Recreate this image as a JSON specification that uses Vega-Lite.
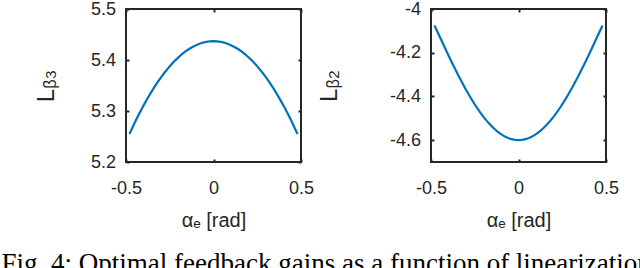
{
  "$schema": "https://vega.github.io/schema/vega-lite/v6.json",
  "background": "white",
  "padding": {"left": 1, "top": -1, "right": 5, "bottom": 0},
  "spacing": 1,
  "config": {
    "font": "Liberation Sans",
    "view": {"stroke": "#262626", "strokeWidth": 2},
    "axis": {
      "grid": false, "domain": false, "labelFlush": false,
      "tickSize": -3, "tickColor": "#262626", "tickWidth": 2,
      "labelFont": "Liberation Sans", "labelFontSize": 18, "labelColor": "#262626",
      "titleFont": "Liberation Sans", "titleFontSize": 20, "titleColor": "#262626", "titleFontWeight": "normal"
    },
    "axisBottom": {"labelPadding": 20, "titlePadding": 13},
    "axisLeft": {"labelPadding": 13.5, "minExtent": 42, "maxExtent": 42, "titleFontSize": 24},
    "axisTop": {"labels": false, "title": null, "minExtent": 0, "maxExtent": 0},
    "axisRight": {"labels": false, "title": null, "minExtent": 0, "maxExtent": 0}
  },
  "title": {"text": "Fig. 4: Optimal feedback gains as a function of linearization", "orient": "bottom", "anchor": "start", "frame": "bounds", "dx": -32, "font": "Liberation Serif", "fontSize": 27, "fontWeight": "normal", "color": "#000000", "offset": 20},
  "data": {"values": [
    {"alpha": -0.48, "Lb3": 5.2550, "Lb2": -4.0752},
    {"alpha": -0.46, "Lb3": 5.2698, "Lb2": -4.1099},
    {"alpha": -0.44, "Lb3": 5.2841, "Lb2": -4.1444},
    {"alpha": -0.42, "Lb3": 5.2976, "Lb2": -4.1787},
    {"alpha": -0.40, "Lb3": 5.3106, "Lb2": -4.2125},
    {"alpha": -0.38, "Lb3": 5.3229, "Lb2": -4.2456},
    {"alpha": -0.36, "Lb3": 5.3346, "Lb2": -4.2780},
    {"alpha": -0.34, "Lb3": 5.3457, "Lb2": -4.3095},
    {"alpha": -0.32, "Lb3": 5.3561, "Lb2": -4.3399},
    {"alpha": -0.30, "Lb3": 5.3659, "Lb2": -4.3691},
    {"alpha": -0.28, "Lb3": 5.3751, "Lb2": -4.3970},
    {"alpha": -0.26, "Lb3": 5.3836, "Lb2": -4.4235},
    {"alpha": -0.24, "Lb3": 5.3915, "Lb2": -4.4484},
    {"alpha": -0.22, "Lb3": 5.3988, "Lb2": -4.4717},
    {"alpha": -0.20, "Lb3": 5.4054, "Lb2": -4.4933},
    {"alpha": -0.18, "Lb3": 5.4114, "Lb2": -4.5130},
    {"alpha": -0.16, "Lb3": 5.4168, "Lb2": -4.5309},
    {"alpha": -0.14, "Lb3": 5.4215, "Lb2": -4.5469},
    {"alpha": -0.12, "Lb3": 5.4256, "Lb2": -4.5608},
    {"alpha": -0.10, "Lb3": 5.4291, "Lb2": -4.5727},
    {"alpha": -0.08, "Lb3": 5.4319, "Lb2": -4.5825},
    {"alpha": -0.06, "Lb3": 5.4342, "Lb2": -4.5901},
    {"alpha": -0.04, "Lb3": 5.4357, "Lb2": -4.5956},
    {"alpha": -0.02, "Lb3": 5.4367, "Lb2": -4.5989},
    {"alpha": 0.00, "Lb3": 5.4370, "Lb2": -4.6000},
    {"alpha": 0.02, "Lb3": 5.4367, "Lb2": -4.5989},
    {"alpha": 0.04, "Lb3": 5.4357, "Lb2": -4.5956},
    {"alpha": 0.06, "Lb3": 5.4342, "Lb2": -4.5901},
    {"alpha": 0.08, "Lb3": 5.4319, "Lb2": -4.5825},
    {"alpha": 0.10, "Lb3": 5.4291, "Lb2": -4.5727},
    {"alpha": 0.12, "Lb3": 5.4256, "Lb2": -4.5608},
    {"alpha": 0.14, "Lb3": 5.4215, "Lb2": -4.5469},
    {"alpha": 0.16, "Lb3": 5.4168, "Lb2": -4.5309},
    {"alpha": 0.18, "Lb3": 5.4114, "Lb2": -4.5130},
    {"alpha": 0.20, "Lb3": 5.4054, "Lb2": -4.4933},
    {"alpha": 0.22, "Lb3": 5.3988, "Lb2": -4.4717},
    {"alpha": 0.24, "Lb3": 5.3915, "Lb2": -4.4484},
    {"alpha": 0.26, "Lb3": 5.3836, "Lb2": -4.4235},
    {"alpha": 0.28, "Lb3": 5.3751, "Lb2": -4.3970},
    {"alpha": 0.30, "Lb3": 5.3659, "Lb2": -4.3691},
    {"alpha": 0.32, "Lb3": 5.3561, "Lb2": -4.3399},
    {"alpha": 0.34, "Lb3": 5.3457, "Lb2": -4.3095},
    {"alpha": 0.36, "Lb3": 5.3346, "Lb2": -4.2780},
    {"alpha": 0.38, "Lb3": 5.3229, "Lb2": -4.2456},
    {"alpha": 0.40, "Lb3": 5.3106, "Lb2": -4.2125},
    {"alpha": 0.42, "Lb3": 5.2976, "Lb2": -4.1787},
    {"alpha": 0.44, "Lb3": 5.2841, "Lb2": -4.1444},
    {"alpha": 0.46, "Lb3": 5.2698, "Lb2": -4.1099},
    {"alpha": 0.48, "Lb3": 5.2550, "Lb2": -4.0752}
  ]},
  "hconcat": [
    {
      "width": 175, "height": 153,
      "layer": [
        {"mark": {"type": "line", "color": "#0072BD", "strokeWidth": 2.2},
         "encoding": {
           "x": {"field": "alpha", "type": "quantitative", "scale": {"domain": [-0.5, 0.5], "nice": false},
                 "axis": {"values": [-0.5, 0, 0.5], "format": "~g", "labelExpr": "replace(datum.label, '−', '-')", "title": "αₑ [rad]"}},
           "y": {"field": "Lb3", "type": "quantitative", "scale": {"domain": [5.2, 5.5], "nice": false, "zero": false},
                 "axis": {"values": [5.2, 5.3, 5.4, 5.5], "format": ".1f", "title": "Lᵦ₃", "titleX": -67.5}}}},
        {"mark": {"type": "line", "opacity": 0},
         "encoding": {
           "x": {"field": "alpha", "type": "quantitative", "scale": {"domain": [-0.5, 0.5], "nice": false}, "axis": {"orient": "top", "values": [-0.5, 0, 0.5], "labels": false, "title": null}},
           "y": {"field": "Lb3", "type": "quantitative", "scale": {"domain": [5.2, 5.5], "nice": false, "zero": false}, "axis": {"orient": "right", "values": [5.2, 5.3, 5.4, 5.5], "labels": false, "title": null}}}}
      ],
      "resolve": {"axis": {"x": "independent", "y": "independent"}}
    },
    {
      "width": 175, "height": 153,
      "layer": [
        {"mark": {"type": "line", "color": "#0072BD", "strokeWidth": 2.2},
         "encoding": {
           "x": {"field": "alpha", "type": "quantitative", "scale": {"domain": [-0.5, 0.5], "nice": false},
                 "axis": {"values": [-0.5, 0, 0.5], "format": "~g", "labelExpr": "replace(datum.label, '−', '-')", "title": "αₑ [rad]"}},
           "y": {"field": "Lb2", "type": "quantitative", "scale": {"domain": [-4.7, -4], "nice": false, "zero": false},
                 "axis": {"values": [-4.6, -4.4, -4.2, -4], "format": "~g", "labelExpr": "replace(datum.label, '−', '-')", "title": "Lᵦ₂", "titleX": -90}}}},
        {"mark": {"type": "line", "opacity": 0},
         "encoding": {
           "x": {"field": "alpha", "type": "quantitative", "scale": {"domain": [-0.5, 0.5], "nice": false}, "axis": {"orient": "top", "values": [-0.5, 0, 0.5], "labels": false, "title": null}},
           "y": {"field": "Lb2", "type": "quantitative", "scale": {"domain": [-4.7, -4], "nice": false, "zero": false}, "axis": {"orient": "right", "values": [-4.6, -4.4, -4.2, -4], "labels": false, "title": null}}}}
      ],
      "resolve": {"axis": {"x": "independent", "y": "independent"}}
    }
  ]
}
